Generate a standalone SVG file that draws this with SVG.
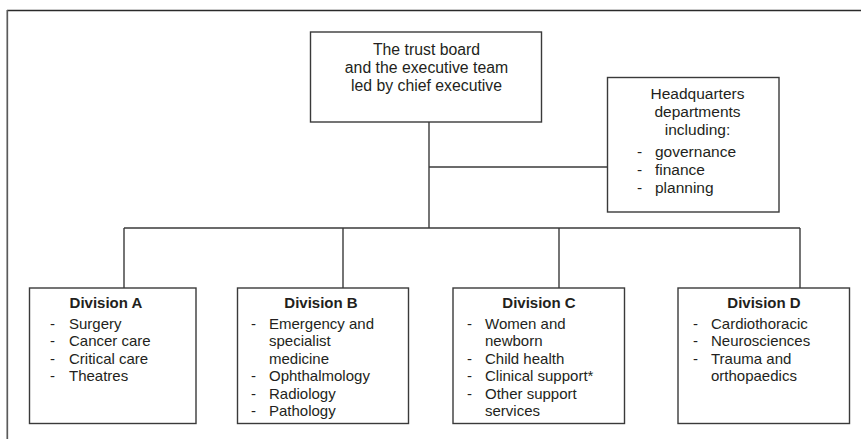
<svg xmlns="http://www.w3.org/2000/svg" width="861" height="439" viewBox="0 0 861 439">
<style>
.box{fill:#fff;stroke:#3a3a3a;stroke-width:1.4}
.ln{stroke:#3a3a3a;stroke-width:1.4;fill:none}
text{font-family:"Liberation Sans",Arial,sans-serif;fill:#231f20}
.top{font-size:15.8px;text-anchor:middle}
.hq{font-size:15.5px}
.hqc{font-size:15.5px;text-anchor:middle}
.ttl{font-size:15px;font-weight:bold;text-anchor:middle}
.it{font-size:15px}
</style>
<rect width="861" height="439" fill="#fff"/>
<g id="frame">
<line x1="7" y1="10.5" x2="861" y2="10.5" stroke="#2a2a2a" stroke-width="1.5"/>
<line x1="7.3" y1="10" x2="7.3" y2="439" stroke="#5a5a5a" stroke-width="1.7"/>
</g>
<g id="connectors">
<line class="ln" x1="429" y1="122" x2="429" y2="228"/>
<line class="ln" x1="429" y1="167" x2="607.5" y2="167"/>
<line class="ln" x1="124" y1="228" x2="800" y2="228"/>
<line class="ln" x1="124" y1="228" x2="124" y2="288"/>
<line class="ln" x1="343" y1="228" x2="343" y2="288"/>
<line class="ln" x1="559" y1="228" x2="559" y2="288"/>
<line class="ln" x1="800" y1="228" x2="800" y2="288"/>
</g>
<g id="trust-board">
<rect class="box" x="310.5" y="32" width="231" height="90"/>
<text class="top" x="426.5" y="55">The trust board</text>
<text class="top" x="426.5" y="73.3">and the executive team</text>
<text class="top" x="426.5" y="91">led by chief executive</text>
</g>
<g id="headquarters">
<rect class="box" x="607.5" y="77.5" width="171.5" height="134.5"/>
<text class="hqc" x="697.5" y="99.3">Headquarters</text>
<text class="hqc" x="697.5" y="116.5">departments</text>
<text class="hqc" x="697.5" y="134.5">including:</text>
<text class="hq" x="637" y="156.7">-</text><text class="hq" x="655" y="156.7">governance</text>
<text class="hq" x="637" y="175">-</text><text class="hq" x="655" y="175">finance</text>
<text class="hq" x="637" y="192.7">-</text><text class="hq" x="655" y="192.7">planning</text>
</g>
<g id="division-a">
<rect class="box" x="29.5" y="288" width="166.5" height="135.5"/>
<text class="ttl" x="106" y="308">Division A</text>
<text class="it" x="50" y="328.5">-</text><text class="it" x="69" y="328.5">Surgery</text>
<text class="it" x="50" y="346">-</text><text class="it" x="69" y="346">Cancer care</text>
<text class="it" x="50" y="363.5">-</text><text class="it" x="69" y="363.5">Critical care</text>
<text class="it" x="50" y="381">-</text><text class="it" x="69" y="381">Theatres</text>
</g>
<g id="division-b">
<rect class="box" x="237.5" y="288" width="171" height="135.5"/>
<text class="ttl" x="321" y="308">Division B</text>
<text class="it" x="251" y="328.5">-</text><text class="it" x="269" y="328.5">Emergency and</text>
<text class="it" x="269" y="346">specialist</text>
<text class="it" x="269" y="363.5">medicine</text>
<text class="it" x="251" y="381">-</text><text class="it" x="269" y="381">Ophthalmology</text>
<text class="it" x="251" y="398.5">-</text><text class="it" x="269" y="398.5">Radiology</text>
<text class="it" x="251" y="416">-</text><text class="it" x="269" y="416">Pathology</text>
</g>
<g id="division-c">
<rect class="box" x="453" y="288" width="171.5" height="135.5"/>
<text class="ttl" x="539" y="308">Division C</text>
<text class="it" x="467" y="328.5">-</text><text class="it" x="485" y="328.5">Women and</text>
<text class="it" x="485" y="346">newborn</text>
<text class="it" x="467" y="363.5">-</text><text class="it" x="485" y="363.5">Child health</text>
<text class="it" x="467" y="381">-</text><text class="it" x="485" y="381">Clinical support*</text>
<text class="it" x="467" y="398.5">-</text><text class="it" x="485" y="398.5">Other support</text>
<text class="it" x="485" y="416">services</text>
</g>
<g id="division-d">
<rect class="box" x="678" y="288" width="171.5" height="135.5"/>
<text class="ttl" x="764" y="308">Division D</text>
<text class="it" x="693" y="328.5">-</text><text class="it" x="711" y="328.5">Cardiothoracic</text>
<text class="it" x="693" y="346">-</text><text class="it" x="711" y="346">Neurosciences</text>
<text class="it" x="693" y="363.5">-</text><text class="it" x="711" y="363.5">Trauma and</text>
<text class="it" x="711" y="381">orthopaedics</text>
</g>
</svg>
